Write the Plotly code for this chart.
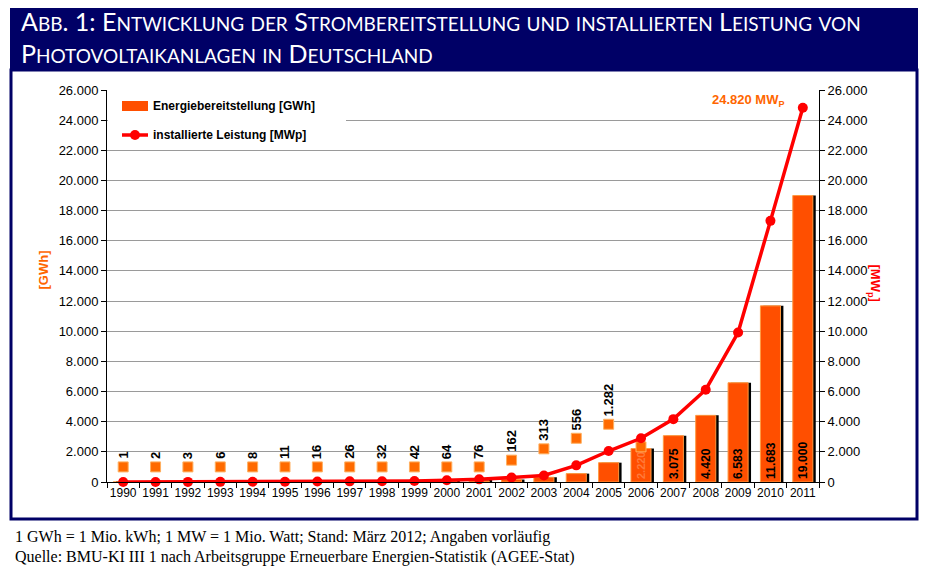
import plotly.graph_objects as go

# ---------------- data ----------------
years = [str(y) for y in range(1990, 2012)]
energy_gwh = [1, 2, 3, 6, 8, 11, 16, 26, 32, 42, 64, 76, 162, 313, 556, 1282,
              2220, 3075, 4420, 6583, 11683, 19000]
capacity_mwp = [2, 3, 6, 9, 12, 18, 28, 42, 54, 70, 114, 176, 296, 435, 1105,
                2056, 2899, 4170, 6120, 9914, 17320, 24820]
# label key positions (Excel data label legend keys) for small values
label_years = [str(y) for y in range(1990, 2007)]
label_key_y = [1000] * 12 + [1450, 2200, 2900, 3830, 2330]
y_ticks = list(range(0, 26001, 2000))

# the page body has an 8px margin; reference coordinates are shifted by it
OFF = 8
W, H = 944 - OFF, 573 - OFF
L, R, T, B = 107, 819, 90, 482   # plot area in reference pixel coordinates


def px(x):
    return (x - L) / (R - L)


def py(y):
    return (B - y) / (B - T)


def de(v):
    return f"{v:,}".replace(",", ".")


def smallcaps(s, big, small):
    """Fake small caps: lowercase -> uppercase at the small size, every run in its own span."""
    runs = []
    for ch in s:
        is_small = ch.islower()
        c = ch.upper() if is_small else ch
        if runs and runs[-1][0] == is_small:
            runs[-1][1] += c
        else:
            runs.append([is_small, c])
    return "".join(
        f'<span style="font-size:{small if sm else big}px">{txt}</span>' for sm, txt in runs
    )


BAR = "#FF4F00"
KEY = "#FF6A00"
NAVY = "#000066"
SANS = "Liberation Sans, Arial"

fig = go.Figure()

# bar shadow
fig.add_trace(go.Bar(
    x=years, y=energy_gwh, marker=dict(color="black", line=dict(width=0)),
    width=0.62, offset=-0.22, showlegend=False, hoverinfo="skip",
))
# bars (labels inside only for the tall bars)
bar_text = [de(v) if v >= 2000 else None for v in energy_gwh]
bar_text_colors = ["#FF7A3A" if v < 3000 else "black" for v in energy_gwh]
fig.add_trace(go.Bar(
    x=years, y=energy_gwh, name="Energiebereitstellung [GWh]",
    marker=dict(color=BAR, line=dict(color="#FF9A40", width=1)),
    width=0.62, offset=-0.31,
    text=bar_text, textposition="inside", textangle=-90,
    insidetextanchor="start",
    textfont=dict(family=SANS, size=13, color=bar_text_colors, weight="bold"),
    showlegend=False,
))
# label keys
fig.add_trace(go.Scatter(
    x=label_years, y=label_key_y, mode="markers",
    marker=dict(symbol="square", size=10, color=KEY, line=dict(color="#FFB060", width=1)),
    showlegend=False, hoverinfo="skip",
))
# capacity line
fig.add_trace(go.Scatter(
    x=years, y=capacity_mwp, name="installierte Leistung [MWp]", yaxis="y2",
    mode="lines+markers", line=dict(color="#FF0000", width=3.5),
    marker=dict(color="#FF0000", size=10, symbol="circle"),
    cliponaxis=False, showlegend=False,
))

annotations = []
# small value labels (category axis -> use index positions)
for i, (v, ky) in enumerate(zip(energy_gwh, label_key_y)):
    if v >= 2000:
        continue
    annotations.append(dict(
        x=i, y=ky, xref="x", yref="y", text=de(v), textangle=-90,
        showarrow=False, yanchor="bottom", yshift=6,
        font=dict(family=SANS, size=13, color="black", weight="bold"),
    ))
# final value annotation
annotations.append(dict(
    x=len(years) - 1, y=capacity_mwp[-1], xref="x", yref="y2",
    text="24.820 MW<sub>P</sub>", showarrow=False, xanchor="right", yanchor="middle",
    xshift=-16, yshift=7,
    font=dict(family=SANS, size=13, color="#FF6600", weight="bold"),
))
# axis titles
annotations.append(dict(
    x=px(33), y=py(270), xref="paper", yref="paper", text="[GWh]", textangle=-90,
    showarrow=False, font=dict(family=SANS, size=13, color="#FF6600", weight="bold"),
))
annotations.append(dict(
    x=px(885), y=py(283), xref="paper", yref="paper", text="[MW<sub>p</sub>]", textangle=90,
    showarrow=False, font=dict(family=SANS, size=13, color="#FF0000", weight="bold"),
))
# custom legend
leg_font = dict(family=SANS, size=12, color="black", weight="bold")
annotations.append(dict(
    x=px(151), y=py(106), xref="paper", yref="paper", xanchor="left", yanchor="middle",
    text="Energiebereitstellung [GWh]", showarrow=False, font=leg_font,
))
annotations.append(dict(
    x=px(151), y=py(135), xref="paper", yref="paper", xanchor="left", yanchor="middle",
    text="installierte Leistung [MWp]", showarrow=False, font=leg_font,
))
# title lines
annotations.append(dict(
    x=px(19), y=py(21), xref="paper", yref="paper", xanchor="left", yanchor="middle",
    text=smallcaps("Abb. 1: Entwicklung der Strombereitstellung und installierten Leistung von", 25, 19),
    showarrow=False, font=dict(family="Lato", size=19, color="white"),
))
annotations.append(dict(
    x=px(19), y=py(53), xref="paper", yref="paper", xanchor="left", yanchor="middle",
    text=smallcaps("Photovoltaikanlagen in Deutschland", 25, 19),
    showarrow=False, font=dict(family="Lato", size=19, color="white"),
))
# footer
foot_font = dict(family="Liberation Serif", size=16, color="black")
annotations.append(dict(
    x=px(13), y=py(537), xref="paper", yref="paper", xanchor="left", yanchor="middle",
    text="1 GWh = 1 Mio. kWh; 1 MW = 1 Mio. Watt; Stand: März 2012; Angaben vorläufig",
    showarrow=False, font=foot_font,
))
annotations.append(dict(
    x=px(13), y=py(557), xref="paper", yref="paper", xanchor="left", yanchor="middle",
    text="Quelle: BMU-KI III 1 nach Arbeitsgruppe Erneuerbare Energien-Statistik (AGEE-Stat)",
    showarrow=False, font=foot_font,
))

shapes = [
    dict(type="rect", xref="paper", yref="paper", x0=px(10), x1=px(918), y0=py(6), y1=py(71),
         fillcolor=NAVY, line=dict(width=0), layer="below"),
    dict(type="rect", xref="paper", yref="paper", x0=px(11), x1=px(917), y0=py(70), y1=py(519),
         fillcolor="rgba(0,0,0,0)", line=dict(color=NAVY, width=3), layer="below"),
    # legend background
    dict(type="rect", xref="paper", yref="paper", x0=px(108), x1=px(346), y0=py(91), y1=py(146),
         fillcolor="white", line=dict(width=0), layer="above"),
    # legend keys
    dict(type="rect", xref="paper", yref="paper", x0=px(122), x1=px(148), y0=py(101), y1=py(111),
         fillcolor=BAR, line=dict(width=0), layer="above"),
    dict(type="line", xref="paper", yref="paper", x0=px(122), x1=px(148), y0=py(135), y1=py(135),
         line=dict(color="#FF0000", width=3.5), layer="above"),
    dict(type="circle", xref="paper", yref="paper", x0=px(130), x1=px(140), y0=py(130), y1=py(140),
         fillcolor="#FF0000", line=dict(width=0), layer="above"),
]

axis_font = dict(family=SANS, size=13, color="black")
fig.update_layout(
    width=W, height=H,
    margin=dict(l=L - OFF, r=W - (R - OFF), t=T - OFF, b=H - (B - OFF), pad=0),
    paper_bgcolor="white", plot_bgcolor="white",
    separators=",.",
    barmode="overlay",
    showlegend=False,
    xaxis=dict(type="category", categoryorder="array", categoryarray=years,
               tickson="boundaries", ticks="outside", ticklen=5, tickcolor="black",
               showline=True, linecolor="black", linewidth=1, showgrid=False,
               tickangle=0, tickfont=dict(family=SANS, size=12, color="black"),
               range=[-0.5, len(years) - 0.5]),
    yaxis=dict(range=[0, 26000], tickvals=y_ticks, tickformat=",d", ticks="outside",
               ticklen=5, tickcolor="black", showline=True, linecolor="black", linewidth=1,
               showgrid=True, gridcolor="#9a9a9a", gridwidth=1, tickfont=axis_font,
               zeroline=False),
    yaxis2=dict(range=[0, 26000], tickvals=y_ticks, tickformat=",d", ticks="outside",
                ticklen=5, tickcolor="black", showline=True, linecolor="black", linewidth=1,
                showgrid=False, overlaying="y", side="right", tickfont=axis_font,
                zeroline=False),
    annotations=annotations,
    shapes=shapes,
)

fig.write_html("out.html")
